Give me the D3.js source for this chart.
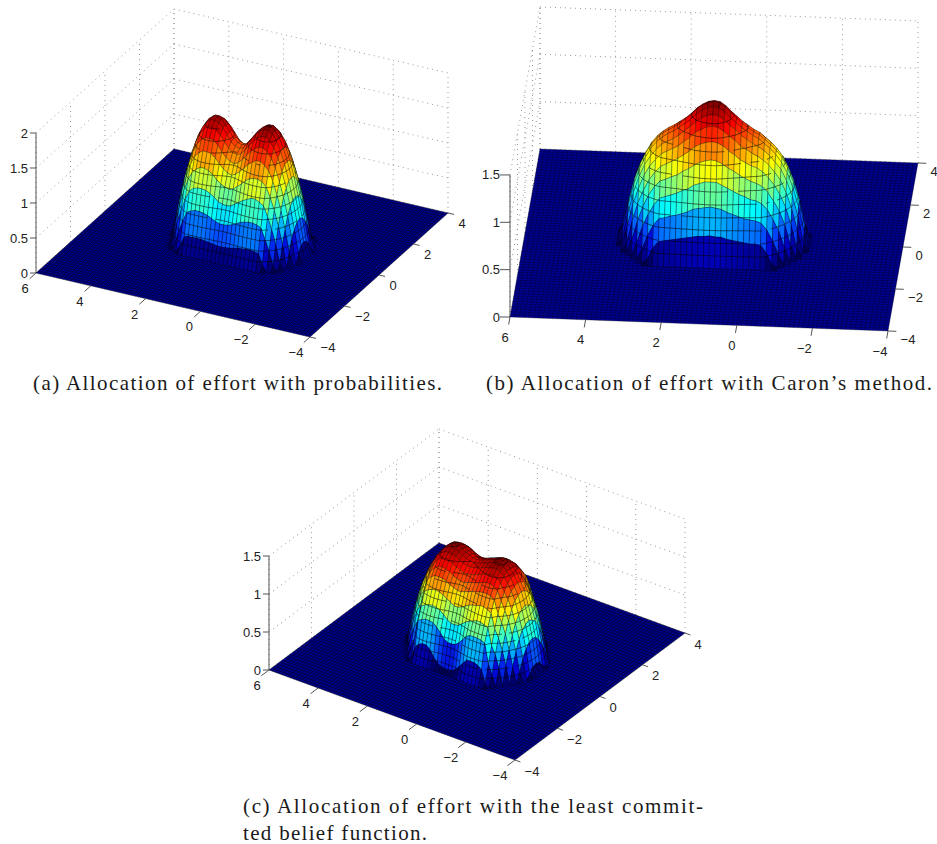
<!DOCTYPE html>
<html><head><meta charset="utf-8">
<script src="https://cdn.jsdelivr.net/npm/d3@7"></script>
<style>html,body{margin:0;background:#fff}svg{display:block}.soft{filter:blur(.35px)}</style>
</head><body><svg id="c" width="937" height="844"></svg>
<script>
const xTicks=[6,4,2,0,-2,-4];
const yTicks=[-4,-2,0,2,4];
const zTicksA=[0,0.5,1,1.5,2];
const zTicksBC=[0,0.5,1,1.5];
const captionA=["(a) Allocation of effort with probabilities."];
const captionB=["(b) Allocation of effort with Caron\u2019s method."];
const captionC=["(c) Allocation of effort with the least commit-","ted belief function."];
// surface heights, in hundredths. Columns x = 3.55 ... -1.55, rows far (+y) to near (-y), step 0.15
const Z35=[0,0,0,0,0,0,0,0,0,0,0,0,0,0,0,0,0,0,0,0,0,0,0,0,0,0,0,0,0,0,0,0,0,0,0];
const heightsA=[
Z35,
[0,0,0,0,0,0,0,9,23,25,25,25,25,24,23,22,21,21,21,22,23,25,25,26,26,25,24,9,0,0,0,0,0,0,0],
[0,0,0,0,0,5,25,41,55,58,60,60,59,57,54,51,49,49,50,52,55,58,60,61,61,60,57,42,26,6,0,0,0,0,0],
[0,0,0,0,8,33,52,69,82,87,89,89,88,85,81,76,74,73,74,78,82,86,89,92,92,89,85,71,54,34,8,0,0,0,0],
[0,0,0,0,30,55,76,93,105,111,115,115,113,109,103,98,95,93,95,100,105,111,115,117,117,115,109,95,78,57,32,0,0,0,0],
[0,0,0,18,48,73,94,112,124,131,135,135,134,129,122,116,112,110,113,118,124,131,135,139,139,135,128,115,97,76,50,19,0,0,0],
[0,0,0,32,62,88,109,127,139,147,151,151,150,144,136,129,125,123,126,132,139,146,151,155,155,151,143,130,112,91,66,35,0,0,0],
[0,0,11,42,72,98,120,137,150,158,163,163,161,155,147,139,134,133,135,142,150,157,163,167,167,163,154,141,123,101,76,45,12,0,0],
[0,0,18,48,78,104,126,144,156,165,170,170,168,162,153,145,140,138,141,148,156,164,170,174,174,170,161,148,130,108,82,52,20,0,0],
[0,0,20,50,80,106,128,146,158,167,172,172,170,164,155,147,142,140,143,150,158,166,172,176,176,172,163,150,132,110,84,54,22,0,0],
[0,0,18,48,78,104,126,144,156,165,170,170,168,162,153,145,140,138,141,148,156,164,170,174,174,170,161,148,130,108,82,52,20,0,0],
[0,0,11,42,72,98,120,137,150,158,163,163,161,155,147,139,134,133,135,142,150,157,163,167,167,163,154,141,123,101,76,45,12,0,0],
[0,0,0,32,62,88,109,127,139,147,151,151,150,144,136,129,125,123,126,132,139,146,151,155,155,151,143,130,112,91,66,35,0,0,0],
[0,0,0,18,48,73,94,112,124,131,135,135,134,129,122,116,112,110,113,118,124,131,135,139,139,135,128,115,97,76,50,19,0,0,0],
[0,0,0,0,30,55,76,93,105,111,115,115,113,109,103,98,95,93,95,100,105,111,115,117,117,115,109,95,78,57,32,0,0,0,0],
[0,0,0,0,8,33,52,69,82,87,89,89,88,85,81,76,74,73,74,78,82,86,89,92,92,89,85,71,54,34,8,0,0,0,0],
[0,0,0,0,0,5,25,41,55,58,60,60,59,57,54,51,49,49,50,52,55,58,60,61,61,60,57,42,26,6,0,0,0,0,0],
[0,0,0,0,0,0,0,9,23,25,25,25,25,24,23,22,21,21,21,22,23,25,25,26,26,25,24,9,0,0,0,0,0,0,0],
Z35];
const heightsB=[
Z35,
[0,0,0,0,0,0,3,16,23,24,25,26,27,28,29,30,30,31,30,30,28,27,26,25,24,24,23,15,3,0,0,0,0,0,0],
[0,0,0,0,0,11,26,37,44,45,47,48,50,52,55,56,57,58,57,56,53,51,49,47,46,45,43,36,25,11,0,0,0,0,0],
[0,0,0,0,15,32,45,55,62,64,66,68,71,73,77,79,81,81,81,78,75,72,69,67,64,63,60,54,44,32,15,0,0,0,0],
[0,0,0,14,34,50,62,71,77,79,82,84,88,91,95,98,100,101,100,97,93,90,86,83,80,78,75,69,60,50,35,14,0,0,0],
[0,0,6,31,50,64,75,83,89,92,95,98,102,106,111,114,116,117,116,113,108,104,99,96,93,91,87,81,74,64,51,32,7,0,0],
[0,0,21,45,62,76,86,93,99,102,105,108,113,117,123,126,129,130,129,125,120,116,110,107,103,100,96,91,84,76,63,46,23,0,0],
[0,4,31,54,71,84,93,100,106,109,112,116,121,126,131,135,138,139,138,134,128,124,118,114,110,107,103,98,91,84,72,56,35,5,0],
[0,12,38,60,76,88,98,105,110,114,117,121,125,130,136,140,143,144,143,139,133,128,123,119,115,112,107,102,96,88,77,62,42,15,0],
[0,15,40,62,78,90,99,106,111,115,118,122,127,132,138,142,145,146,145,141,135,130,124,120,116,113,108,103,97,90,79,64,44,18,0],
[0,12,38,60,76,88,98,105,110,114,117,121,125,130,136,140,143,144,143,139,133,128,123,119,115,112,107,102,96,88,77,62,42,15,0],
[0,4,31,54,71,84,93,100,106,109,112,116,121,126,131,135,138,139,138,134,128,124,118,114,110,107,103,98,91,84,72,56,35,5,0],
[0,0,21,45,62,76,86,93,99,102,105,108,113,117,123,126,129,130,129,125,120,116,110,107,103,100,96,91,84,76,63,46,23,0,0],
[0,0,6,31,50,64,75,83,89,92,95,98,102,106,111,114,116,117,116,113,108,104,99,96,93,91,87,81,74,64,51,32,7,0,0],
[0,0,0,14,34,50,62,71,77,79,82,84,88,91,95,98,100,101,100,97,93,90,86,83,80,78,75,69,60,50,35,14,0,0,0],
[0,0,0,0,15,32,45,55,62,64,66,68,71,73,77,79,81,81,81,78,75,72,69,67,64,63,60,54,44,32,15,0,0,0,0],
[0,0,0,0,0,11,26,37,44,45,47,48,50,52,55,56,57,58,57,56,53,51,49,47,46,45,43,36,25,11,0,0,0,0,0],
[0,0,0,0,0,0,3,16,23,24,25,26,27,28,29,30,30,31,30,30,28,27,26,25,24,24,23,15,3,0,0,0,0,0,0],
Z35];
const heightsC=[
Z35,
[0,0,0,0,0,0,0,2,18,24,26,26,22,14,8,5,4,4,5,8,14,20,26,26,26,24,20,3,0,0,0,0,0,0,0],
[0,0,0,0,0,0,12,25,50,53,55,55,54,50,44,38,35,35,36,40,46,52,55,55,55,54,52,26,13,0,0,0,0,0,0],
[0,0,0,0,0,20,34,45,66,69,71,72,71,69,65,60,57,57,58,62,66,69,71,73,73,71,69,47,37,21,0,0,0,0,0],
[0,0,0,0,22,39,53,63,82,86,88,89,88,86,83,80,77,77,79,82,85,87,88,90,90,88,85,66,56,42,23,0,0,0,0],
[0,0,0,20,39,56,69,79,95,100,103,103,103,101,98,96,94,94,96,98,100,101,103,104,104,103,99,83,73,60,41,20,0,0,0],
[0,0,11,36,54,69,81,92,103,108,112,113,112,110,107,105,103,103,105,107,108,110,112,114,114,112,108,96,86,74,56,37,12,0,0],
[0,0,25,48,66,80,92,101,110,116,120,121,120,118,115,113,111,111,112,114,116,118,120,121,121,120,115,105,97,86,69,50,26,0,0],
[0,3,34,57,74,87,99,108,116,122,125,126,125,124,121,119,117,117,118,120,122,124,125,127,127,125,121,113,105,94,77,59,36,4,0],
[0,10,40,62,78,92,103,112,119,125,129,130,129,127,124,122,120,120,121,123,125,127,129,131,131,129,124,117,108,98,81,63,42,11,0],
[0,12,42,64,80,93,104,113,120,126,130,131,130,128,125,123,121,121,122,124,126,128,130,132,132,130,125,118,110,100,84,66,44,13,0],
[0,10,40,62,78,92,103,112,119,125,129,130,129,127,124,122,120,120,121,123,125,127,129,131,131,129,124,117,108,98,81,63,42,11,0],
[0,3,34,57,74,87,99,108,116,122,125,126,125,124,121,119,117,117,118,120,122,124,125,127,127,125,121,113,105,94,77,59,36,4,0],
[0,0,25,48,66,80,92,101,110,116,120,121,120,118,115,113,111,111,112,114,116,118,120,121,121,120,115,105,97,86,69,50,26,0,0],
[0,0,11,36,54,69,81,92,103,108,112,113,112,110,107,105,103,103,105,107,108,110,112,114,114,112,108,96,86,74,56,37,12,0,0],
[0,0,0,20,39,56,69,79,95,100,103,103,103,101,98,96,94,94,96,98,100,101,103,104,104,103,99,83,73,60,41,20,0,0,0],
[0,0,0,0,22,39,53,63,82,86,88,89,88,86,83,80,77,77,79,82,85,87,88,90,90,88,85,66,56,42,23,0,0,0,0],
[0,0,0,0,0,20,34,45,66,69,71,72,71,69,65,60,57,57,58,62,66,69,71,73,73,71,69,47,37,21,0,0,0,0,0],
[0,0,0,0,0,0,12,25,50,53,55,55,54,50,44,38,35,35,36,40,46,52,55,55,55,54,52,26,13,0,0,0,0,0,0],
[0,0,0,0,0,0,0,2,18,24,26,26,22,14,8,5,4,4,5,8,14,20,26,26,26,24,20,3,0,0,0,0,0,0,0],
Z35];

const svg=d3.select("#c");
const clamp=v=>Math.max(0,Math.min(1,v));
function jet(t){
  const f=Math.min(1,.55+2.2*t);
  return d3.rgb(f*255*clamp(Math.min(4*t-1.5,-4*t+4.5)),f*255*clamp(Math.min(4*t-.5,-4*t+3.5)),f*255*clamp(Math.min(4*t+.5,-4*t+2.5))).formatRgb();
}
const fmt=d3.format("d");
const panels=[
 {h:heightsA,zt:zTicksA,zTop:2,cap:captionA,o:[36,273],xe:[274,64],ye:[138,-124],zpx:70,step:.135,capx:[[33,442]],capy:[390],
  zl:[28,4.5],xl:[-11,20],yl:[14,15],ztl:6,gop:.85},
 {h:heightsB,zt:zTicksBC,zTop:1.5,cap:captionB,o:[510,317],xe:[378,14],ye:[30,-168],zpx:94.7,step:.12,capx:[[486,932]],capy:[390],
  zl:[500,4.5],xl:[-5,24.5],yl:[16,12.5],ztl:10,gop:.6},
 {h:heightsC,zt:zTicksBC,zTop:1.5,cap:captionC,o:[269,670],xe:[246,90],ye:[170,-127],zpx:76,step:.1,capx:[[243,703],[243,427]],capy:[813,840],
  zl:[261,4.5],xl:[-12,19.5],yl:[13,15.5],ztl:6,gop:.85}
];
const xGrid=d3.range(35).map(i=>3.55-i*.15);
panels.forEach(P=>{
  const g=svg.append("g");
  const sx=d3.scaleLinear().domain([6,-4]).range([[P.o[0],P.o[1]],[P.o[0]+P.xe[0],P.o[1]+P.xe[1]]]);
  const sy=d3.scaleLinear().domain([-4,4]).range([[0,0],[P.ye[0],P.ye[1]]]);
  const sz=d3.scaleLinear().domain([0,1]).range([0,-P.zpx]);
  const proj=(x,y,z)=>{const a=sx(x),b=sy(y);return [a[0]+b[0],a[1]+b[1]+sz(z)];};
  const line=(a,b)=>`M${a[0]},${a[1]}L${b[0]},${b[1]}`;
  let wall="";
  P.zt.forEach(z=>{wall+=line(proj(6,-4,z),proj(6,4,z))+line(proj(6,4,z),proj(-4,4,z));});
  xTicks.forEach(x=>{wall+=line(proj(x,4,0),proj(x,4,P.zTop));});
  yTicks.forEach(y=>{wall+=line(proj(6,y,0),proj(6,y,P.zTop));});
  g.append("path").attr("d",wall).attr("fill","none").attr("stroke","#9a9a9a").attr("stroke-width",1).attr("stroke-dasharray","1 4");
  g.append("path").attr("d",line(proj(6,-4,0),proj(6,-4,P.zTop))).attr("stroke","#555").attr("stroke-width",1);
  g.selectAll(null).data(P.zt).join("path").attr("d",z=>{const p=proj(6,-4,z);return line(p,[p[0]-P.ztl,p[1]]);}).attr("stroke","#555");
  g.selectAll(null).data(P.zt).join("text").attr("x",P.zl[0]).attr("y",z=>proj(6,-4,z)[1]+P.zl[1]).attr("text-anchor","end").text(z=>String(z));
  const s=g.append("g").attr("class","soft");
  const floor=[proj(6,-4,0),proj(-4,-4,0),proj(-4,4,0),proj(6,4,0)];
  s.append("polygon").attr("points",floor.map(p=>p.join(",")).join(" ")).attr("fill","#00008f");
  let mesh="";
  d3.range(-4,6.001,.125).forEach(x=>{mesh+=line(proj(x,-4,0),proj(x,4,0));});
  d3.range(-4,4.001,.125).forEach(y=>{mesh+=line(proj(6,y,0),proj(-4,y,0));});
  s.append("path").attr("d",mesh).attr("fill","none").attr("stroke","#000").attr("stroke-width",.5).attr("stroke-opacity",P.gop);
  xTicks.forEach(x=>{const p=proj(x,-4,0);g.append("path").attr("d",line(p,[p[0]-P.ye[0]*.045,p[1]-P.ye[1]*.045])).attr("stroke","#555");
    g.append("text").attr("x",p[0]+P.xl[0]-(x<0?3:0)).attr("y",p[1]+P.xl[1]).attr("text-anchor","middle").text(fmt(x));});
  yTicks.forEach(y=>{const p=proj(-4,y,0);g.append("path").attr("d",line(p,[p[0]+P.xe[0]*.022,p[1]+P.xe[1]*.022])).attr("stroke","#555");
    g.append("text").attr("x",p[0]+P.yl[0]+(y<0?4:0)).attr("y",p[1]+P.yl[1]).attr("text-anchor","middle").text(fmt(y));});
  const n=P.h.length, zmax=d3.max(P.h.flat())/100;
  const levels=d3.range(P.step,zmax,P.step);
  const yAt=i=>((n-1)/2-i)*.15;
  const items=[];
  for(let i=0;i<n-1;i++)for(let j=0;j<xGrid.length-1;j++){
    const c=[[xGrid[j],yAt(i),P.h[i][j]/100],[xGrid[j+1],yAt(i),P.h[i][j+1]/100],[xGrid[j+1],yAt(i+1),P.h[i+1][j+1]/100],[xGrid[j],yAt(i+1),P.h[i+1][j]/100]];
    if(d3.max(c,d=>d[2])===0)continue;
    items.push({c});
  }
  const seg=(tri,l)=>{
    const pts=[];
    for(let k=0;k<3;k++){const a=tri[k],b=tri[(k+1)%3];
      if((a[2]-l)*(b[2]-l)<0){const t=(l-a[2])/(b[2]-a[2]);pts.push(proj(a[0]+t*(b[0]-a[0]),a[1]+t*(b[1]-a[1]),l));}}
    return pts.length===2?line(pts[0],pts[1]):"";
  };
  const cg=s.selectAll(null).data(items).join("g");
  cg.append("path").attr("d",d=>"M"+d.c.map(v=>proj(v[0],v[1],v[2]).join(",")).join("L")+"Z")
    .attr("fill",d=>jet(d3.mean(d.c,v=>v[2])/zmax)).attr("stroke","#000").attr("stroke-width",.55).attr("stroke-opacity",.5);
  cg.append("path").attr("d",d=>{let s="";levels.forEach(l=>{s+=seg([d.c[0],d.c[1],d.c[2]],l)+seg([d.c[0],d.c[2],d.c[3]],l);});return s;})
    .attr("fill","none").attr("stroke","#000").attr("stroke-width",.8).attr("stroke-opacity",.7);
  P.cap.forEach((t,i)=>{svg.append("text").attr("class","cap").attr("x",P.capx[i][0]).attr("y",P.capy[i]).attr("textLength",P.capx[i][1]-P.capx[i][0]).attr("lengthAdjust","spacing").text(t);});
});
svg.selectAll("text").attr("font-family","'Liberation Sans',Arial,sans-serif").attr("font-size",13).attr("fill","#222");
svg.selectAll("text.cap").attr("font-family","'Liberation Serif',serif").attr("font-size",21).attr("fill","#1a1a1a");
</script></body></html>
